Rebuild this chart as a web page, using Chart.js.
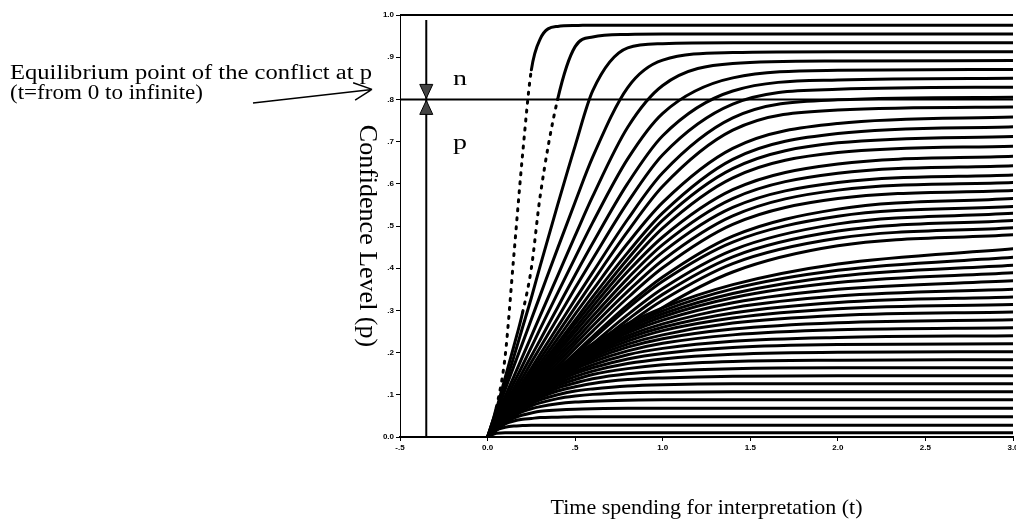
<!DOCTYPE html>
<html>
<head>
<meta charset="utf-8">
<title>Confidence Level (p)</title>
<script src="https://cdn.jsdelivr.net/npm/chart.js@4.4.1/dist/chart.umd.min.js"></script>
<style>
  html, body { margin: 0; padding: 0; background: #fff; }
  canvas { display: block; }
</style>
</head>
<body>
<canvas id="grafico" width="1016" height="527"></canvas>
<script>
// time samples shared by every curve
const timeSteps = [0, 0.05, 0.1, 0.15, 0.2, 0.25, 0.3, 0.4, 0.5, 0.6, 0.8, 1.0, 1.4, 2.0, 3.0];

// curves that climb fast to a high confidence level
const steepCurves = [
    [0, 0.07, 0.19, 0.43, 0.67, 0.87, 0.943, 0.973, 0.975, 0.976, 0.976, 0.976, 0.976, 0.976, 0.976],
    [0, 0.065, 0.14, 0.215, 0.295, 0.40, 0.57, 0.80, 0.925, 0.948, 0.954, 0.955, 0.955, 0.955, 0.955],
    [0, 0.06, 0.125, 0.19, 0.26, 0.33, 0.405, 0.55, 0.69, 0.82, 0.922, 0.932, 0.934, 0.934, 0.934],
    [0, 0.056, 0.112, 0.168, 0.223, 0.279, 0.335, 0.447, 0.557, 0.663, 0.828, 0.893, 0.911, 0.913, 0.913],
    [0, 0.048, 0.096, 0.143, 0.191, 0.239, 0.287, 0.382, 0.477, 0.570, 0.734, 0.833, 0.885, 0.891, 0.892],
    [0, 0.043, 0.085, 0.128, 0.170, 0.213, 0.256, 0.341, 0.425, 0.508, 0.659, 0.767, 0.851, 0.869, 0.871],
    [0, 0.038, 0.077, 0.115, 0.154, 0.192, 0.230, 0.307, 0.384, 0.459, 0.601, 0.714, 0.820, 0.846, 0.850]
];

// curves that keep rising slowly towards the middle of the range
const risingCurves = [
    [0, 0.035, 0.071, 0.106, 0.141, 0.177, 0.212, 0.282, 0.353, 0.422, 0.556, 0.669, 0.789, 0.824, 0.829],
    [0, 0.033, 0.065, 0.098, 0.130, 0.163, 0.196, 0.261, 0.326, 0.390, 0.516, 0.626, 0.756, 0.799, 0.805],
    [0, 0.031, 0.062, 0.092, 0.123, 0.154, 0.185, 0.246, 0.307, 0.368, 0.487, 0.594, 0.727, 0.775, 0.782],
    [0, 0.029, 0.058, 0.088, 0.117, 0.146, 0.175, 0.233, 0.291, 0.348, 0.459, 0.556, 0.684, 0.743, 0.758],
    [0, 0.028, 0.056, 0.083, 0.111, 0.139, 0.167, 0.222, 0.277, 0.332, 0.437, 0.531, 0.658, 0.719, 0.735],
    [0, 0.027, 0.054, 0.080, 0.107, 0.134, 0.161, 0.214, 0.268, 0.320, 0.422, 0.514, 0.636, 0.697, 0.712],
    [0, 0.026, 0.052, 0.077, 0.103, 0.129, 0.155, 0.206, 0.258, 0.309, 0.407, 0.495, 0.614, 0.674, 0.689],
    [0, 0.025, 0.050, 0.075, 0.100, 0.125, 0.150, 0.200, 0.249, 0.298, 0.392, 0.474, 0.586, 0.647, 0.665],
    [0, 0.024, 0.048, 0.072, 0.096, 0.120, 0.144, 0.192, 0.239, 0.286, 0.376, 0.456, 0.565, 0.625, 0.643],
    [0, 0.023, 0.046, 0.069, 0.092, 0.115, 0.138, 0.184, 0.229, 0.275, 0.361, 0.438, 0.544, 0.603, 0.621],
    [0, 0.022, 0.044, 0.066, 0.088, 0.110, 0.132, 0.176, 0.220, 0.263, 0.345, 0.419, 0.524, 0.585, 0.603],
    [0, 0.021, 0.042, 0.063, 0.084, 0.105, 0.126, 0.168, 0.210, 0.251, 0.330, 0.401, 0.504, 0.565, 0.584],
    [0, 0.020, 0.040, 0.060, 0.080, 0.100, 0.120, 0.160, 0.199, 0.238, 0.313, 0.379, 0.476, 0.540, 0.565],
    [0, 0.0195, 0.039, 0.0585, 0.078, 0.0975, 0.117, 0.156, 0.194, 0.232, 0.305, 0.369, 0.462, 0.523, 0.546],
    [0, 0.0185, 0.037, 0.0555, 0.074, 0.0925, 0.111, 0.148, 0.184, 0.220, 0.290, 0.352, 0.443, 0.505, 0.530],
    [0, 0.018, 0.0355, 0.053, 0.071, 0.089, 0.106, 0.142, 0.177, 0.212, 0.278, 0.338, 0.427, 0.488, 0.513],
    [0, 0.017, 0.034, 0.051, 0.068, 0.085, 0.102, 0.136, 0.169, 0.203, 0.267, 0.324, 0.411, 0.471, 0.496],
    [0, 0.016, 0.032, 0.048, 0.064, 0.080, 0.096, 0.128, 0.160, 0.191, 0.251, 0.307, 0.391, 0.453, 0.479]
];

// curves that settle early at a low confidence level
const flatCurves = [
    [0, 0.024, 0.047, 0.069, 0.090, 0.110, 0.128, 0.163, 0.193, 0.221, 0.268, 0.306, 0.361, 0.410, 0.446],
    [0, 0.024, 0.047, 0.069, 0.090, 0.109, 0.127, 0.161, 0.191, 0.218, 0.263, 0.299, 0.351, 0.395, 0.426],
    [0, 0.024, 0.047, 0.069, 0.089, 0.108, 0.126, 0.159, 0.188, 0.214, 0.258, 0.292, 0.340, 0.381, 0.407],
    [0, 0.024, 0.047, 0.068, 0.088, 0.107, 0.125, 0.157, 0.186, 0.211, 0.252, 0.285, 0.330, 0.366, 0.389],
    [0, 0.024, 0.047, 0.068, 0.088, 0.106, 0.124, 0.155, 0.183, 0.207, 0.247, 0.277, 0.318, 0.350, 0.370],
    [0, 0.024, 0.047, 0.068, 0.087, 0.105, 0.122, 0.153, 0.180, 0.203, 0.240, 0.268, 0.306, 0.334, 0.350],
    [0, 0.024, 0.047, 0.067, 0.087, 0.104, 0.121, 0.151, 0.176, 0.198, 0.234, 0.260, 0.294, 0.319, 0.332],
    [0, 0.024, 0.046, 0.067, 0.086, 0.103, 0.120, 0.148, 0.173, 0.194, 0.227, 0.252, 0.282, 0.304, 0.314],
    [0, 0.024, 0.046, 0.066, 0.085, 0.102, 0.118, 0.146, 0.169, 0.189, 0.220, 0.242, 0.270, 0.288, 0.296],
    [0, 0.024, 0.046, 0.066, 0.084, 0.101, 0.116, 0.143, 0.165, 0.184, 0.213, 0.233, 0.256, 0.271, 0.278],
    [0, 0.024, 0.046, 0.065, 0.083, 0.099, 0.114, 0.140, 0.161, 0.178, 0.204, 0.222, 0.242, 0.254, 0.259],
    [0, 0.024, 0.045, 0.064, 0.082, 0.097, 0.112, 0.136, 0.155, 0.171, 0.195, 0.210, 0.227, 0.236, 0.240],
    [0, 0.024, 0.045, 0.064, 0.080, 0.096, 0.109, 0.132, 0.150, 0.164, 0.185, 0.198, 0.212, 0.219, 0.221],
    [0, 0.024, 0.044, 0.063, 0.079, 0.093, 0.106, 0.127, 0.143, 0.156, 0.174, 0.185, 0.196, 0.201, 0.202],
    [0, 0.023, 0.044, 0.062, 0.077, 0.091, 0.102, 0.122, 0.136, 0.148, 0.162, 0.171, 0.179, 0.182, 0.183],
    [0, 0.023, 0.043, 0.060, 0.075, 0.088, 0.098, 0.116, 0.128, 0.138, 0.150, 0.156, 0.162, 0.164, 0.164],
    [0, 0.023, 0.042, 0.059, 0.072, 0.084, 0.094, 0.109, 0.119, 0.127, 0.136, 0.140, 0.144, 0.145, 0.145],
    [0, 0.023, 0.041, 0.057, 0.069, 0.079, 0.088, 0.100, 0.109, 0.114, 0.121, 0.124, 0.126, 0.126, 0.126],
    [0, 0.022, 0.040, 0.054, 0.065, 0.074, 0.081, 0.091, 0.097, 0.101, 0.105, 0.106, 0.107, 0.107, 0.107],
    [0, 0.022, 0.038, 0.051, 0.060, 0.067, 0.072, 0.079, 0.083, 0.085, 0.087, 0.088, 0.088, 0.088, 0.088],
    [0, 0.021, 0.035, 0.045, 0.052, 0.057, 0.061, 0.064, 0.066, 0.067, 0.068, 0.068, 0.068, 0.068, 0.068],
    [0, 0.020, 0.031, 0.038, 0.042, 0.044, 0.046, 0.047, 0.048, 0.048, 0.048, 0.048, 0.048, 0.048, 0.048],
    [0, 0.017, 0.023, 0.026, 0.027, 0.028, 0.028, 0.028, 0.028, 0.028, 0.028, 0.028, 0.028, 0.028, 0.028],
    [0, 0.009, 0.010, 0.010, 0.010, 0.010, 0.010, 0.010, 0.010, 0.010, 0.010, 0.010, 0.010, 0.010, 0.010]
];

const xTickLabels = ['-.5', '0.0', '.5', '1.0', '1.5', '2.0', '2.5', '3.0'];
const yTickLabels = ['0.0', '.1', '.2', '.3', '.4', '.5', '.6', '.7', '.8', '.9', '1.0'];

const equilibriumLevel = 0.8;   // p where the conflict balances
const markerTime = -0.35;       // where the n / p arrows sit

document.addEventListener('DOMContentLoaded', () => {
    const ctx = document.getElementById('grafico');

    // steep stretches were plotted as loose dots
    const isSteep = s => (s.p1.parsed.y - s.p0.parsed.y) / (s.p1.parsed.x - s.p0.parsed.x) > 2.0;

    const datasets = [...steepCurves, ...risingCurves, ...flatCurves].map(values => ({
        data: values.map((p, i) => ({ x: timeSteps[i], y: p })),
        borderColor: '#000',
        borderWidth: 3,
        borderCapStyle: 'round',
        pointRadius: 0,
        fill: false,
        cubicInterpolationMode: 'monotone',
        segment: { borderDash: s => isSteep(s) ? [2, 7] : undefined }
    }));

    function stretchedText(c, text, x, y, width) {
        const w = c.measureText(text).width;
        c.save();
        c.translate(x, y);
        c.scale(width / w, 1);
        c.fillText(text, 0, 0);
        c.restore();
    }

    const annotations = {
        id: 'annotations',
        afterDraw(chart) {
            const { ctx: c, chartArea: area, scales: { x, y } } = chart;
            const yEq = y.getPixelForValue(equilibriumLevel);
            const xMark = x.getPixelForValue(markerTime);
            c.save();
            c.strokeStyle = '#000';
            c.fillStyle = '#000';

            // top frame and equilibrium line
            c.lineWidth = 2;
            c.beginPath();
            c.moveTo(area.left, y.getPixelForValue(1));
            c.lineTo(area.right, y.getPixelForValue(1));
            c.moveTo(area.left, yEq);
            c.lineTo(area.right, yEq);
            c.stroke();

            // vertical marker with the two arrowheads meeting at the equilibrium
            c.beginPath();
            c.moveTo(xMark, y.getPixelForValue(0.988));
            c.lineTo(xMark, y.getPixelForValue(0));
            c.stroke();
            c.lineWidth = 1;
            c.fillStyle = '#444';
            [-1, 1].forEach(dir => {
                c.beginPath();
                c.moveTo(xMark - 6.5, yEq + dir * 15);
                c.lineTo(xMark + 6.5, yEq + dir * 15);
                c.lineTo(xMark, yEq + dir);
                c.closePath();
                c.fill();
                c.stroke();
            });
            c.fillStyle = '#000';

            // pointer from the note to the equilibrium level
            const tail = { x: 253, y: 103 };
            const tip = { x: 372, y: yEq - 10 };
            const ang = Math.atan2(tip.y - tail.y, tip.x - tail.x);
            c.lineWidth = 1.5;
            c.beginPath();
            c.moveTo(tail.x, tail.y);
            c.lineTo(tip.x, tip.y);
            [0.45, -0.45].forEach(d => {
                c.moveTo(tip.x, tip.y);
                c.lineTo(tip.x - 20 * Math.cos(ang + d), tip.y - 20 * Math.sin(ang + d));
            });
            c.stroke();

            // texts
            c.textBaseline = 'alphabetic';
            c.textAlign = 'left';
            c.font = '20px "Liberation Serif"';
            stretchedText(c, 'Equilibrium point of the conflict at p', 10, 79, 362);
            stretchedText(c, '(t=from 0 to infinite)', 10, 99, 193);

            c.font = '22px "Liberation Serif"';
            stretchedText(c, 'n', 453, yEq - 14, 14);
            stretchedText(c, 'p', 453, yEq + 50, 14);

            c.save();
            c.translate(area.left - 33, 236);
            c.rotate(Math.PI / 2);
            c.textAlign = 'center';
            c.textBaseline = 'middle';
            c.font = '26px "Liberation Serif"';
            c.fillText('Confidence Level (p)', 0, 0);
            c.restore();

            c.restore();
        }
    };

    const tickFont = { family: '"Liberation Sans"', size: 8, weight: 'bold' };

    new Chart(ctx, {
        type: 'line',
        data: { datasets },
        plugins: [annotations],
        options: {
            responsive: false,
            animation: false,
            events: [],
            layout: { padding: { top: 15, right: 3, bottom: 0, left: 0 } },
            plugins: { legend: { display: false }, tooltip: { enabled: false } },
            scales: {
                x: {
                    type: 'linear',
                    min: -0.5,
                    max: 3,
                    afterFit: s => { s.height = 90; s.paddingLeft = 0; s.paddingRight = 0; },
                    ticks: {
                        stepSize: 0.5, autoSkip: false, padding: 2, color: '#000', font: tickFont,
                        callback: (v, i) => xTickLabels[i]
                    },
                    grid: { drawOnChartArea: false, tickLength: 4, color: '#000' },
                    border: { color: '#000', width: 2 },
                    title: {
                        display: true,
                        text: 'Time spending for interpretation (t)',
                        color: '#000',
                        font: { family: '"Liberation Serif"', size: 22 },
                        padding: { top: 0, bottom: 6 }
                    }
                },
                y: {
                    type: 'linear',
                    min: 0,
                    max: 1,
                    afterFit: s => { s.width = 400; s.paddingTop = 0; s.paddingBottom = 0; },
                    ticks: {
                        stepSize: 0.1, autoSkip: false, padding: 2, color: '#000', font: tickFont,
                        callback: (v, i) => yTickLabels[i]
                    },
                    grid: { drawOnChartArea: false, tickLength: 4, color: '#000' },
                    border: { color: '#000', width: 1, dash: [2, 2] }
                }
            }
        }
    });
});
</script>
</body>
</html>
